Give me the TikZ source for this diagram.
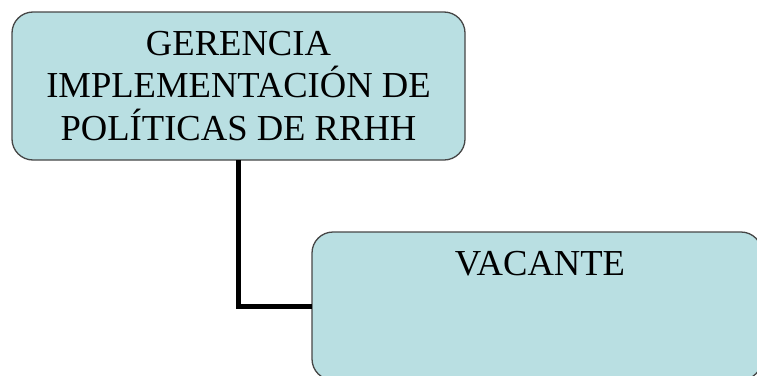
\documentclass[tikz,border=0pt]{standalone}
\usepackage{fontspec}
\setmainfont{Liberation Serif}
\definecolor{boxfill}{RGB}{185,223,226}
\definecolor{boxline}{RGB}{70,70,70}
\begin{document}
\begin{tikzpicture}[x=1pt,y=-1pt,
  orgbox/.style={draw=boxline, line width=1.3pt, fill=boxfill, rounded corners=21pt,
    inner sep=0pt, outer sep=0pt, align=center},
  orgtext/.style={font=\fontsize{36.6}{42.5}\selectfont},
  link/.style={line width=5pt, black}]
\useasboundingbox (0,0) rectangle (757,375);
\node[orgbox, orgtext, minimum width=453pt, minimum height=148pt] (top) at (238.5,86)
  {GERENCIA\\IMPLEMENTACIÓN DE\\POLÍTICAS DE RRHH};
\node[orgbox, minimum width=450pt, minimum height=148pt] (vac) at (537,306) {};
\node[orgtext, anchor=base, inner sep=0pt] (vact) at (540,275) {VACANTE};
\draw[link] (top.south) |- (vac.west);
\end{tikzpicture}
\end{document}
